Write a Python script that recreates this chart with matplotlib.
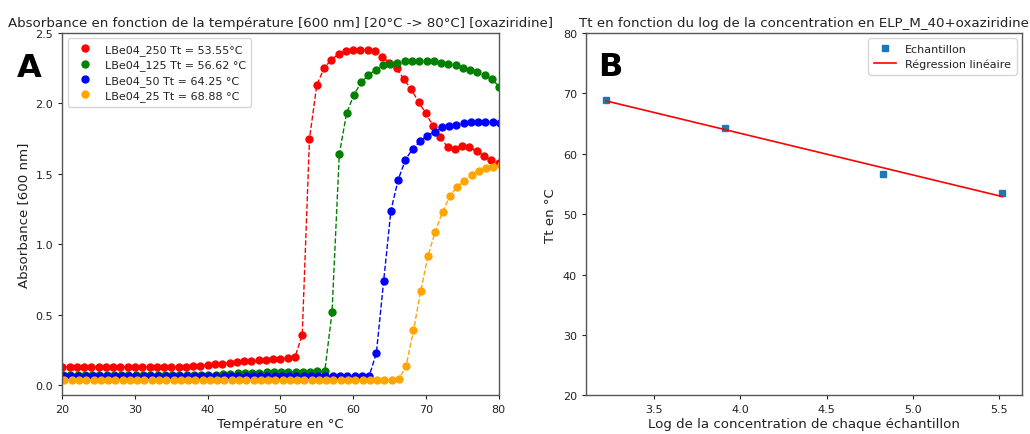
import numpy as np
import matplotlib
matplotlib.use("Agg")
import matplotlib.pyplot as plt

# ---------------- Data ----------------
temp = list(range(20, 81))

abs_250 = [0.13]*17 + [0.133, 0.137, 0.14, 0.145, 0.15, 0.155, 0.16, 0.165, 0.17,
                       0.173, 0.177, 0.18, 0.185, 0.19, 0.195, 0.20, 0.36, 1.75, 2.13,
                       2.25, 2.31, 2.35, 2.37, 2.38, 2.38, 2.38, 2.37, 2.33, 2.29, 2.25,
                       2.17, 2.10, 2.01, 1.93, 1.84, 1.76, 1.69, 1.68, 1.70, 1.69, 1.66,
                       1.63, 1.60, 1.58]
abs_125 = [0.075]*21 + [0.077, 0.08, 0.083, 0.086, 0.088, 0.09, 0.09, 0.092, 0.093,
                        0.094, 0.095, 0.096, 0.097, 0.098, 0.099, 0.10, 0.52, 1.64, 1.93,
                        2.06, 2.15, 2.20, 2.24, 2.27, 2.28, 2.29, 2.30, 2.30, 2.30, 2.30,
                        2.30, 2.29, 2.28, 2.27, 2.25, 2.24, 2.22, 2.20, 2.17, 2.12]
abs_50 = [0.065]*43 + [0.23, 0.74, 1.24, 1.46, 1.60, 1.68, 1.73, 1.77, 1.80, 1.83,
                       1.84, 1.85, 1.86, 1.87, 1.87, 1.87, 1.87, 1.86]
abs_25 = [0.04]*46 + [0.045, 0.14, 0.39, 0.67, 0.92, 1.09, 1.23, 1.34, 1.41, 1.45,
                      1.49, 1.52, 1.54, 1.55, 1.56]

series_labels = ["LBe04_250 Tt = 53.55°C", "LBe04_125 Tt = 56.62 °C",
                 "LBe04_50 Tt = 64.25 °C", "LBe04_25 Tt = 68.88 °C"]
series_colors = ["red", "green", "blue", "orange"]
series_shift = [0.0, 0.1, 0.2, 0.3]

log_conc = [np.log(25), np.log(50), np.log(125), np.log(250)]
tt_values = [68.88, 64.25, 56.62, 53.55]

# ---------------- Figure ----------------
fig = plt.figure(figsize=(10.30, 4.35), dpi=100)
ax1 = fig.add_axes([0.0605, 0.089, 0.4235, 0.833])
ax2 = fig.add_axes([0.569, 0.089, 0.4235, 0.833])

txt = "#222222"
spine_c = "#555555"

for y, lab, col, sh in zip([abs_250, abs_125, abs_50, abs_25], series_labels,
                           series_colors, series_shift):
    t = np.array(temp) + sh
    ax1.plot(t, y, linestyle="--", color=col, linewidth=1.0)
    ax1.plot(t, y, linestyle="none", marker="o", markersize=5, color=col, label=lab)

ax1.set_xlim(20, 80)
ax1.set_ylim(-0.07, 2.5)
ax1.set_xticks([20, 30, 40, 50, 60, 70, 80])
ax1.set_yticks([0.0, 0.5, 1.0, 1.5, 2.0, 2.5])
ax1.set_title("Absorbance en fonction de la température [600 nm] [20°C -> 80°C] [oxaziridine]",
              fontsize=9.6, color=txt, pad=5)
ax1.set_xlabel("Température en °C", fontsize=9.6, color=txt, labelpad=2)
ax1.set_ylabel("Absorbance [600 nm]", fontsize=9.6, color=txt, labelpad=4)
leg1 = ax1.legend(loc="upper left", fontsize=8, numpoints=1, handletextpad=0.8,
                  borderpad=0.5, labelspacing=0.4)
for t_ in leg1.get_texts():
    t_.set_color(txt)

# regression
coef = np.polyfit(log_conc, tt_values, 1)
fit_y = np.polyval(coef, log_conc)
ax2.plot(log_conc, tt_values, linestyle="none", marker="s", markersize=5,
         color="#1f77b4", label="Echantillon")
ax2.plot(log_conc, fit_y, color="red", linewidth=1.2, label="Régression linéaire")
ax2.set_ylim(20, 80)
ax2.set_xticks([3.5, 4.0, 4.5, 5.0, 5.5])
ax2.set_title("Tt en fonction du log de la concentration en ELP_M_40+oxaziridine",
              fontsize=9.6, color=txt, pad=5)
ax2.set_xlabel("Log de la concentration de chaque échantillon", fontsize=9.6, color=txt,
               labelpad=2)
ax2.set_ylabel("Tt en °C", fontsize=9.6, color=txt, labelpad=4)
leg2 = ax2.legend(loc="upper right", fontsize=8, numpoints=1, borderpad=0.5,
                  labelspacing=0.4)
for t_ in leg2.get_texts():
    t_.set_color(txt)

for ax in (ax1, ax2):
    ax.tick_params(labelsize=8, colors=txt, length=3)
    for s in ax.spines.values():
        s.set_color(spine_c)
        s.set_linewidth(1.0)

fig.text(0.016, 0.822, "A", fontsize=23, fontweight="bold", color="black")
fig.text(0.581, 0.826, "B", fontsize=23, fontweight="bold", color="black")

fig.savefig("out.png", dpi=100)
